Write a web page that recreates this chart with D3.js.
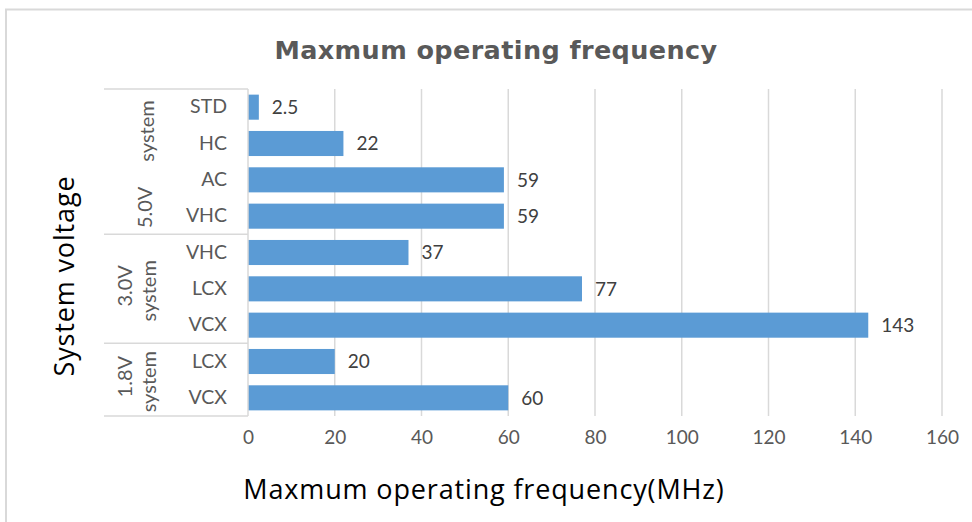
<!DOCTYPE html>
<html><head><meta charset="utf-8">
<script src="https://cdn.jsdelivr.net/npm/d3@7"></script>
<style>body{margin:0;background:#fff}svg{display:block}</style>
</head><body><svg id="c" width="972" height="522" font-family="Lato,'Open Sans',sans-serif"></svg>
<script>
const categories = ["STD","HC","AC","VHC","VHC","LCX","VCX","LCX","VCX"];
const groupOf = ["5.0V","5.0V","5.0V","5.0V","3.0V","3.0V","3.0V","1.8V","1.8V"];
const values = [2.5,22,59,59,37,77,143,20,60];
const valueLabels = ["2.5","22","59","59","37","77","143","20","60"];
const groupNames = ["5.0V","3.0V","1.8V"];
const groupWords = [["5.0V","system"],["3.0V","system"],["1.8V","system"]];
const xTicks = [0,20,40,60,80,100,120,140,160];
const title = "Maxmum operating frequency";
const xTitle = "Maxmum operating frequency(MHz)";
const yTitle = "System voltage";

const FONT = "Lato,'Open Sans',sans-serif";
const TFONT = "'Open Sans','Noto Sans',sans-serif";
const svg = d3.select("#c");
svg.append("rect").attr("x",6).attr("y",9.5).attr("width",1000).attr("height",600)
  .attr("fill","none").attr("stroke","#d9d9d9").attr("stroke-width",2);

const L=248, R=942, T=89, B=416;
const x = d3.scaleLinear().domain([0,160]).range([L,R]);
const idx = d3.range(categories.length);
const y = d3.scaleBand().domain(idx).range([T,B]).paddingInner(0.31).paddingOuter(0.155);

svg.append("g").selectAll("line").data(xTicks.filter(d=>d>0)).join("line")
  .attr("x1",d=>x(d)).attr("x2",d=>x(d)).attr("y1",T).attr("y2",B)
  .attr("stroke","#d9d9d9").attr("stroke-width",1.5);

const xa = svg.append("g").attr("transform",`translate(0,${B})`)
  .call(d3.axisBottom(x).tickValues(xTicks).tickSize(0).tickPadding(15));
xa.select(".domain").remove();
xa.selectAll("text").attr("font-size",19).attr("fill","#595959").attr("font-family",FONT);

svg.append("g").selectAll("rect").data(idx).join("rect")
  .attr("x",x(0)).attr("y",i=>y(i)).attr("width",i=>x(values[i])-x(0)).attr("height",y.bandwidth())
  .attr("fill","#5b9bd5");

svg.append("g").selectAll("text").data(idx).join("text")
  .attr("x",i=>x(values[i])+13).attr("y",i=>y(i)+y.bandwidth()/2).attr("dy","0.36em")
  .attr("font-family",FONT).attr("font-size",19).attr("fill","#404040").text(i=>valueLabels[i]);

const ya = svg.append("g").attr("transform",`translate(${L},0)`)
  .call(d3.axisLeft(y).tickFormat(i=>categories[i]).tickSize(0).tickPadding(21));
ya.select(".domain").attr("stroke","#d9d9d9").attr("stroke-width",1.5).attr("d",`M0,${T}V${B}`);
ya.selectAll("text").attr("font-size",19.5).attr("fill","#595959").attr("font-family",FONT);

const step = y.step(), gap = step - y.bandwidth();
const spans = groupNames.map(g=>{
  const ii = idx.filter(i=>groupOf[i]===g);
  return [y(ii[0]) - gap/2, y(ii[ii.length-1]) + y.bandwidth() + gap/2];
});
spans[0][0]=T; spans[spans.length-1][1]=B;
const bounds = [T].concat(spans.map(s=>s[1]));
svg.append("g").selectAll("line").data(bounds).join("line")
  .attr("x1",104).attr("x2",L).attr("y1",d=>d).attr("y2",d=>d)
  .attr("stroke","#d9d9d9").attr("stroke-width",1.5);

spans.forEach((s,k)=>{
  const cy=(s[0]+s[1])/2;
  const w = groupWords[k];
  const g = svg.append("g").attr("fill","#595959").attr("font-size",20).attr("font-family",FONT);
  if(k===0){
    g.append("text").attr("transform",`translate(152,${s[1]-27}) rotate(-90)`)
      .attr("text-anchor","middle").text(w[0]);
    g.append("text").attr("transform",`translate(154,${s[0]+42}) rotate(-90)`)
      .attr("text-anchor","middle").text(w[1]);
  } else {
    g.append("text").attr("transform",`translate(132,${cy-3}) rotate(-90)`)
      .attr("text-anchor","middle").text(w[0]);
    g.append("text").attr("transform",`translate(156,${cy+2}) rotate(-90)`)
      .attr("text-anchor","middle").text(w[1]);
  }
});

svg.append("text").attr("x",496).attr("y",59).attr("text-anchor","middle")
  .attr("font-family","'DejaVu Sans',Verdana,sans-serif").attr("letter-spacing",0.4)
  .attr("font-size",25.5).attr("font-weight","bold").attr("fill","#595959").text(title);
svg.append("text").attr("x",484).attr("y",499).attr("text-anchor","middle")
  .attr("font-family",TFONT).attr("letter-spacing",0.85)
  .attr("font-size",27).attr("fill","#000").text(xTitle);
svg.append("text").attr("transform","translate(74,276) rotate(-90)").attr("text-anchor","middle")
  .attr("font-family",TFONT).attr("letter-spacing",0.85)
  .attr("font-size",27).attr("fill","#000").text(yTitle);
</script></body></html>
